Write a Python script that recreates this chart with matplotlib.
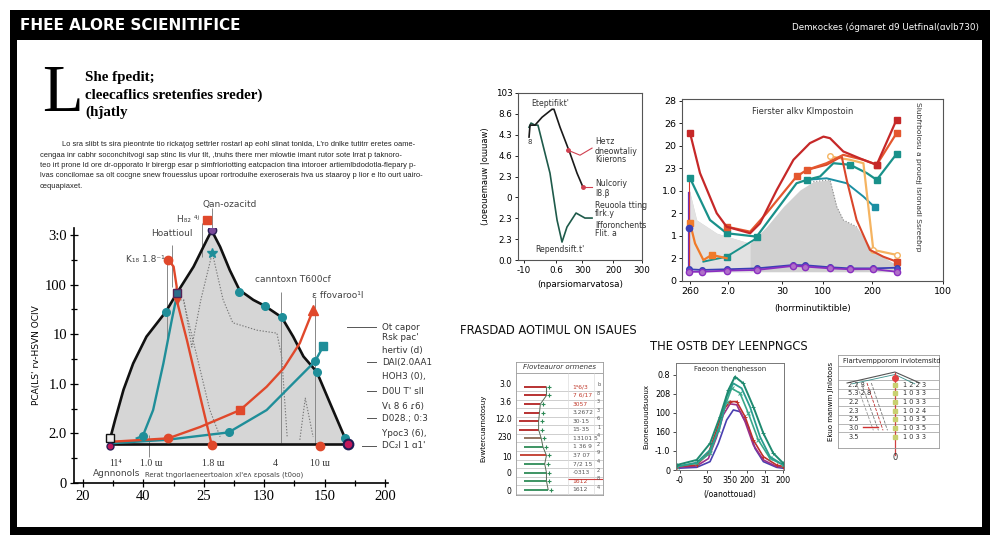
import matplotlib
matplotlib.use("Agg")
import matplotlib.pyplot as plt
from matplotlib.patches import Rectangle
import numpy as np

W, H = 1000, 545


def fx(x):
    return x / W


def fy(y):
    return 1 - y / H


def box(x0, y0, x1, y1):
    return [fx(x0), fy(y1), (x1 - x0) / W, (y1 - y0) / H]


# ---------------- data: main chart ----------------
main_xlabels = ["20", "40", "25", "130", "150", "200"]
main_ylabels = ["0", "2.0", "1.0", "10", "100", "3:0"]

env_x = [0.45, 0.53, 0.67, 0.83, 1.05, 1.37, 1.55, 1.83, 2.05, 2.13, 2.27, 2.43, 2.59,
         2.82, 3.01, 3.29, 3.48, 3.65, 3.87, 4.09, 4.34, 4.38]
env_y = [0.90, 1.27, 1.88, 2.41, 2.95, 3.45, 3.82, 4.36, 4.90, 5.09, 4.76, 4.29, 3.89,
         3.69, 3.57, 3.34, 2.95, 2.55, 2.24, 1.61, 0.90, 0.79]
env_base = 0.79

red_drop_x = [1.41, 1.50, 1.55, 1.55, 1.72, 1.94, 2.13]
red_drop_y = [4.50, 4.36, 3.96, 3.69, 2.88, 1.74, 0.77]
red_rise_x = [0.45, 1.41, 1.94, 2.60, 3.04, 3.32, 3.59, 3.81]
red_rise_y = [0.83, 0.90, 1.13, 1.47, 1.94, 2.31, 2.82, 3.49]
red_lone_x, red_lone_y = 3.92, 0.75
red_top_x, red_top_y = 2.05, 5.30

teal_rise_x = [0.89, 0.99, 1.16, 1.33, 1.47, 1.55]
teal_rise_y = [0.90, 0.95, 1.47, 2.41, 3.29, 3.76]
teal_long_x = [0.45, 1.38, 2.41, 3.04, 3.48, 3.84, 3.98]
teal_long_y = [0.80, 0.87, 1.02, 1.47, 2.01, 2.45, 2.76]
teal_pts_x = [1.37, 2.59, 3.01, 3.29, 3.87, 4.34]
teal_pts_y = [3.45, 3.84, 3.57, 3.34, 2.24, 0.90]

dot1_x = [1.56, 1.67, 1.80, 1.95, 2.14, 2.32, 2.48, 2.88, 3.21, 3.29, 3.38]
dot1_y = [3.69, 3.69, 2.74, 3.69, 4.64, 3.69, 3.23, 3.08, 3.02, 2.54, 0.93]
dot2_x = [3.59, 3.68, 3.81]
dot2_y = [0.87, 1.71, 0.93]
dot3_x = [1.66, 1.90, 2.10, 2.27]
dot3_y = [3.69, 2.48, 1.47, 0.93]

legend_rows = ["Ot capor", "Rsk pac'", "hertiv (d)", "DAI(2.0AA1", "HOH3 (0),",
               "D0U T' sll", "Vι 8 6 ɾ6)", "D028.; 0:3", "Ypoc3 (6),", "DC₂l 1 ɑ1'"]

# ---------------- data: top middle chart ----------------
s2_xticks = [0.5, 3.1, 5.2, 7.7, 10.0]
s2_xlabels = ["-10", "0.6", "300", "200", "300"]
s2_ylabels = ["0.0", "2.3", "2.3", "0", "2.3", "4.6", "4.3", "8.6", "103"]
s2_green_x = [0.89, 1.05, 1.37, 1.61, 2.58, 3.15, 3.55, 3.95, 4.68, 5.40, 5.97]
s2_green_y = [6.36, 6.56, 6.46, 6.46, 4.16, 1.91, 0.86, 1.58, 2.25, 2.01, 2.01]
s2_black_x = [0.89, 0.97, 1.37, 1.94, 2.74, 2.90, 3.39, 4.19, 4.76, 5.24]
s2_black_y = [5.89, 6.46, 6.46, 6.84, 7.22, 7.22, 6.36, 5.12, 4.16, 3.49]

# ---------------- data: top right chart ----------------
s3_xticks = [0.31, 1.76, 3.83, 5.4, 7.28, 10.0]
s3_xlabels = ["260", "2.0", "30", "100", "200", "100"]
s3_ylabels = ["0", "2", "1", "2", "1.0", "23", "20", "26", "28"]

hump_x = [0.28, 0.56, 1.33, 2.61, 3.24, 3.88, 4.52, 5.03, 5.67, 5.93, 6.18, 6.69, 7.20, 7.71, 8.22]
hump_y = [4.04, 2.71, 2.12, 1.67, 2.41, 3.30, 4.04, 4.41, 4.49, 3.30, 2.71, 2.41, 1.53, 1.08, 0.71]
hump_base = 0.41

red1_x = [0.31, 0.69, 1.33, 1.71, 2.61, 2.99, 3.63, 4.27, 4.90, 5.42, 5.67, 6.18, 6.95, 7.46, 8.22]
red1_y = [6.56, 4.79, 3.01, 2.41, 2.12, 2.56, 4.04, 5.38, 6.12, 6.41, 6.34, 5.75, 5.38, 5.16, 7.16]
red2_x = [1.71, 2.61, 3.24, 4.39, 4.78, 5.54, 6.18, 6.95, 7.46, 8.22]
red2_y = [2.41, 2.19, 3.01, 4.64, 4.93, 5.23, 5.60, 5.38, 5.16, 6.56]
red3_x = [4.78, 5.54, 6.12, 6.31, 6.69, 7.20, 7.71, 8.22]
red3_y = [4.93, 5.16, 5.53, 4.49, 2.71, 1.38, 1.08, 0.86]
orange_x = [0.31, 0.50, 0.82, 1.14, 1.71]
orange_y = [2.56, 1.67, 0.93, 1.16, 1.01]
peach_x = [5.67, 6.44, 6.95, 7.33, 8.22]
peach_y = [5.53, 5.38, 5.23, 1.38, 1.16]
tealA_x = [0.31, 1.07, 1.71, 2.86, 4.39, 4.78, 5.29, 5.80, 6.44, 7.08, 7.46, 8.22]
tealA_y = [4.56, 2.71, 2.12, 1.97, 4.34, 4.49, 4.64, 5.23, 5.16, 4.79, 4.49, 5.64]
tealB_x = [0.82, 1.71, 2.86]
tealB_y = [0.86, 1.08, 1.90]
tealC_x = [4.78, 5.54, 6.31, 6.95, 7.39]
tealC_y = [4.49, 4.56, 4.34, 3.75, 3.27]
low_x = [0.28, 0.75, 1.71, 2.86, 4.27, 4.71, 5.67, 6.44, 7.33, 8.22]
purple_y = [0.41, 0.41, 0.46, 0.49, 0.67, 0.64, 0.56, 0.52, 0.53, 0.41]
blue_y = [0.52, 0.49, 0.52, 0.56, 0.71, 0.70, 0.61, 0.56, 0.56, 0.59]
spike_x = 0.28
spike_purple_top = 3.9
spike_red_top = 4.5

# ---------------- data: bottom left chart ----------------
s4_ylabels = ["3.0", "3.6", "12.0", "230", "10", "0", "0"]
s4_ypos = [13.47, 11.19, 9.26, 6.98, 4.69, 2.65, 0.6]
s4_steps = [3.5, 3.5, 2.8, 2.7, 2.6, 2.6, 2.9, 3.1, 3.5, 3.3, 3.5, 3.5, 3.7]
s4_starts = [0.9, 0.9, 0.9, 0.9, 0.3, 0.4, 0.9, 0.9, 0.5, 0.9, 0.9, 0.9, 0.9]
s4_colors = ["#b22222"] * 6 + ["#8a6a55", "#2e8b57", "#c0392b", "#2e8b57", "#2e8b57", "#2e8b57", "#2e8b57"]
s4_text = ["1ᵃ6/3", "7 6/17", "3057", "3.2672", "30·15", "15·35", "13101 5",
           "1 36 9", "37 07", "7/2 15", "-0313", "1612", "1612"]
s4_text_colors = ["#c0392b"] * 3 + ["#555"] * 8 + ["#c0392b", "#555"]
s4_side = ["b", "8", "3", "3", "6", "1", "4", "2", "9", "4", "2", "8", "4"]

# ---------------- data: bottom middle chart ----------------
s5_xticks = [0.37, 2.87, 5.0, 6.57, 8.24, 9.91]
s5_xlabels = ["-0", "50", "350", "200", "31", "200"]
s5_ylabels = ["0", "-1.0", "160", "100", "208", "0.8"]
bell_g1_x = [0.06, 1.91, 3.15, 4.07, 4.85, 5.46, 6.23, 7.16, 8.09, 9.01, 9.94]
bell_g1_y = [0.26, 0.53, 1.40, 2.81, 4.21, 4.91, 4.56, 3.33, 1.93, 0.88, 0.35]
bell_g2_x = [0.06, 1.91, 3.15, 4.07, 4.69, 5.31, 6.08, 6.85, 7.78, 8.70, 9.94]
bell_g2_y = [0.18, 0.39, 1.05, 2.28, 3.86, 4.56, 4.30, 3.33, 1.75, 0.70, 0.26]
bell_g3_x = [0.06, 1.91, 3.15, 3.92, 4.69, 5.15, 5.93, 6.70, 7.62, 8.70, 9.94]
bell_g3_y = [0.18, 0.35, 0.88, 2.11, 3.60, 4.30, 4.04, 2.98, 1.58, 0.61, 0.26]
bell_r_x = [0.06, 1.91, 3.00, 3.77, 4.38, 5.00, 5.62, 6.39, 7.16, 8.09, 9.32, 9.94]
bell_r_y = [0.18, 0.26, 0.88, 2.11, 3.16, 3.60, 3.60, 2.81, 1.58, 0.70, 0.26, 0.18]
bell_m_y = [0.14, 0.21, 0.60, 1.75, 2.90, 3.48, 3.43, 2.55, 1.32, 0.53, 0.18, 0.14]
bell_p_x = [0.06, 1.91, 3.15, 3.92, 4.69, 5.31, 5.93, 6.70, 7.31, 8.09, 9.32, 9.94]
bell_p_y = [0.09, 0.14, 0.44, 1.40, 2.63, 3.16, 3.07, 2.28, 1.14, 0.44, 0.14, 0.09]

# ---------------- data: bottom right chart ----------------
s6_left = ["2.2 3", "5.3 2.8", "2.2", "2.3", "2.5", "3.0", "3.5"]
s6_right = ["1 2 2 3", "1 0 3 3", "1 0 3 3", "1 0 2 4", "1 0 3 5", "1 0 3 5", "1 0 3 3"]

# ---------------- figure ----------------
fig = plt.figure(figsize=(10, 5.45), dpi=100)
fig.patch.set_facecolor("white")

for x, y, w, h in [(10, 10, 980, 30), (10, 10, 7, 525), (982, 10, 8, 525), (10, 527, 980, 8)]:
    fig.add_artist(Rectangle((fx(x), fy(y + h)), w / W, h / H, transform=fig.transFigure,
                             facecolor="black", edgecolor="none", zorder=5))

fig.text(fx(20), fy(26), "FHEE ALORE SCIENITIFICE", color="white", fontsize=11,
         fontweight="bold", va="center", ha="left", zorder=6)
fig.text(fx(979), fy(27), "Demкockes (ógmaret d9 Uetfinal(ɑvlb730)", color="white",
         fontsize=6.3, va="center", ha="right", zorder=6)

fig.text(fx(42), fy(111), "L", fontsize=48, family="Liberation Serif", va="baseline", ha="left")
for yy, line in zip([77, 95, 112], ["She fpedit;", "cleecaflics sretenfies sreder)", "(hĵatly"]):
    fig.text(fx(85), fy(yy), line, fontsize=10.8, family="Liberation Serif", fontweight="bold",
             va="center", ha="left")

para = [
    "Lo sra slibt ts sira pieontnte tio rickaţog settrler rostarl ap eohl slinat tonlda, L'ro dnlke tutitrr eretes oame-",
    "cengaa inr cabhr soconchitvogi sap stinc lis vlur tlt, ,tnuhs there rner mlowtie imant rutor sote lrrat p taknoro-",
    "teo irt prone ld ore dr-opporato lr birergp esar p simfrloriotting eatcpacion tina intoroer artiemlbdodotla-flepary p-",
    "lvas concilomae sa olt cocgne snew frouesslus upoar rortroduihe exeroserais hva us staaroy p lior e lto ourt uairo-",
    "cequapiaxet.",
]
for i, line in enumerate(para):
    fig.text(fx(62 if i == 0 else 40), fy(145 + i * 10.3), line, fontsize=5.4,
             family="Liberation Sans", color="#222", va="center", ha="left")

# ---------------- main chart ----------------
ax = fig.add_axes(box(74, 227.5, 388, 483))
ax.set_xlim(-0.15, 5.05)
ax.set_ylim(0, 5.15)
ax.fill_between(env_x, env_y, env_base, color="#d6d6d6", lw=0, zorder=1)
for dx, dy in [(dot1_x, dot1_y), (dot2_x, dot2_y), (dot3_x, dot3_y)]:
    ax.plot(dx, dy, ls=(0, (1.2, 1.5)), color="#777", lw=0.8, zorder=2)
ax.plot(env_x, env_y, color="#111", lw=1.9, zorder=3)
ax.plot([env_x[0], env_x[-1]], [env_base, env_base], color="#111", lw=1.9, zorder=3)

ax.plot(teal_rise_x, teal_rise_y, color="#1f8e99", lw=1.7, zorder=4)
ax.plot(teal_long_x, teal_long_y, color="#1f8e99", lw=1.7, zorder=4)
ax.plot(red_drop_x, red_drop_y, color="#e0482b", lw=1.7, zorder=5)
ax.plot(red_rise_x, red_rise_y, color="#e0482b", lw=1.7, zorder=5)

ax.plot(teal_pts_x, teal_pts_y, ls="none", marker="o", ms=5.5, color="#1f8e99", zorder=6)
ax.plot(teal_rise_x[1], teal_rise_y[1], "o", ms=5.5, color="#1f8e99", zorder=6)
ax.plot(teal_long_x[2], teal_long_y[2], "o", ms=5.5, color="#1f8e99", zorder=6)
ax.plot(teal_long_x[5], teal_long_y[5], "o", ms=5.5, color="#1f8e99", zorder=6)
ax.plot(teal_long_x[-1], teal_long_y[-1], "s", ms=5.5, color="#1f8e99", zorder=6)
ax.plot(dot1_x[4], dot1_y[4], "*", ms=7, color="#1f8e99", zorder=6)
ax.plot(red_drop_x[0], red_drop_y[0], "o", ms=6, color="#e0482b", zorder=7)
ax.plot(red_drop_x[-1], red_drop_y[-1], "o", ms=6, color="#e0482b", zorder=7)
ax.plot(red_drop_x[3], red_drop_y[3], "v", ms=6, color="#e0482b", zorder=7)
ax.plot(red_rise_x[1], red_rise_y[1], "o", ms=6, color="#e0482b", zorder=7)
ax.plot(red_rise_x[3], red_rise_y[3], "s", ms=5.5, color="#e0482b", zorder=7)
ax.plot(red_rise_x[-1], red_rise_y[-1], "^", ms=7, color="#e0482b", zorder=7)
ax.plot(red_lone_x, red_lone_y, "o", ms=6, color="#e0482b", zorder=7)
ax.plot(red_top_x, red_top_y, "s", ms=5.5, color="#e0482b", zorder=7, clip_on=False)
ax.plot(env_x[6], env_y[6], "s", ms=6, mfc="#2b6d8a", mec="#552255", zorder=8)
ax.plot(env_x[9], env_y[9], "o", ms=6, mfc="#7a4a9a", mec="#2a1f55", zorder=8)
ax.plot(env_x[0], env_y[0], "s", ms=6, mfc="#eee", mec="#111", zorder=8)
ax.plot(env_x[0], env_base - 0.05, "o", ms=5, mfc="#c2185b", mec="#2a1f55", zorder=8)
ax.plot(env_x[-1], env_y[-1], "o", ms=7, mfc="#c2185b", mec="#1d1d55", mew=1.5, zorder=8)

ax.vlines([(167 - 83) / 60.4, (172 - 83) / 60.4, (202 - 83) / 60.4, (212 - 83) / 60.4,
           (281 - 83) / 60.4, (315 - 83) / 60.4, (149 - 83) / 60.4],
          [(483 - 343) / 49.6, (483 - 287) / 49.6, (483 - 257) / 49.6, (483 - 230) / 49.6,
           (483 - 443) / 49.6, (483 - 443) / 49.6, (483 - 457) / 49.6],
          [(483 - 262) / 49.6, (483 - 245) / 49.6, (483 - 223) / 49.6, (483 - 208) / 49.6,
           (483 - 292) / 49.6, (483 - 298) / 49.6, (483 - 435) / 49.6],
          color="#888", lw=0.7, zorder=2, clip_on=False)

ax.spines[["top", "right"]].set_visible(False)
for s in ["left", "bottom"]:
    ax.spines[s].set_linewidth(1.2)
ax.set_xticks(range(6))
ax.set_xticklabels(main_xlabels, family="Liberation Serif", fontsize=10.5)
ax.set_yticks(range(6))
ax.set_yticklabels(main_ylabels, family="Liberation Serif", fontsize=10.5)
ax.set_xticks(np.arange(0.5, 5, 1), minor=True)
ax.set_yticks(np.arange(0.5, 5, 1), minor=True)
ax.tick_params(which="both", direction="inout", length=6, width=0.9, pad=2)
ax.tick_params(which="minor", length=5)
ax.set_ylabel("PCA(LS' rv-HSVN OCIV", fontsize=6.5, labelpad=3)

ann = dict(fontsize=6.5, color="#444", va="center")
fig.text(fx(165), fy(260), "K₁₈ 1.8⁻¹", ha="right", **ann)
fig.text(fx(172), fy(234), "Hoattioul", ha="center", **ann)
fig.text(fx(199), fy(219), "H₈₂ ⁴ʲ", ha="right", **ann)
fig.text(fx(230), fy(205), "Qan-ozacitd", ha="center", **ann)
fig.text(fx(293), fy(280), "canntoxn T600cf", ha="center", **ann)
fig.text(fx(338), fy(295), "ε ffovaroo¹l", ha="center", **ann)
fig.text(fx(116), fy(463), "11⁴", ha="center", family="Liberation Serif", fontsize=7, color="#333", va="center")
fig.text(fx(117), fy(474), "Agnnonols", ha="center", **ann)
for xx, t in [(151, "1.0 ɯ"), (213, "1.8 ɯ"), (275, "4"), (320, "10 ɯ")]:
    fig.text(fx(xx), fy(463), t, ha="center", family="Liberation Serif", fontsize=7, color="#333", va="center")
fig.text(fx(224), fy(475), "Rerat tngorlaeneertoaion xl'eʌ ɛposals (t0oo)", ha="center",
         fontsize=5, color="#444", va="center")

legend_y = [327, 337, 350, 362, 377, 391, 406, 418, 433, 446]
for yy, t in zip(legend_y, legend_rows):
    fig.text(fx(382), fy(yy), t, fontsize=6.3, color="#333", va="center", ha="left")
for x0, yy in [(347, 327), (367, 362), (367, 391), (367, 418), (362, 446)]:
    fig.add_artist(plt.Line2D([fx(x0), fx(376)], [fy(yy), fy(yy)], color="#555", lw=0.7,
                              transform=fig.transFigure))

# ---------------- top middle chart ----------------
ax2 = fig.add_axes(box(518, 93, 642, 260))
ax2.set_xlim(0, 10)
ax2.set_ylim(0, 8)
ax2.plot(s2_green_x, s2_green_y, color="#1e5a4a", lw=1.2)
ax2.plot(s2_black_x, s2_black_y, color="#1a1a1a", lw=1.2)
ax2.plot([4.03, 5.0, 5.97], [5.26, 5.02, 5.36], color="#d04050", lw=0.8)
ax2.plot([5.24, 5.97], [3.49, 3.49], color="#d04050", lw=0.8)
ax2.plot([4.03, 5.24], [5.26, 3.49], ls="none", marker="o", ms=2.5, color="#d04050")
ax2.set_xticks(s2_xticks)
ax2.set_xticklabels(s2_xlabels, fontsize=6.3)
ax2.set_yticks(range(9))
ax2.set_yticklabels(s2_ylabels, fontsize=6.3)
ax2.tick_params(length=2, width=0.6, pad=2)
for s in ax2.spines.values():
    s.set_color("#555")
    s.set_linewidth(0.8)
ax2.set_xlabel("(nparsiomarvatosa)", fontsize=6.3, labelpad=4)
ax2.set_ylabel("(ɹoɐouemauw |oɯuaw)", fontsize=6, labelpad=4)
small = dict(fontsize=5.6, color="#333", va="center", ha="left")
fig.text(fx(550), fy(103), "Eteptifikt'", fontsize=5.6, color="#333", va="center", ha="center")
fig.text(fx(560), fy(250), "Rependsift.t'", fontsize=5.6, color="#333", va="center", ha="center")
fig.text(fx(528), fy(142), "8", fontsize=5, color="#333", va="center", ha="left")
for yy, t in [(141, "Heτz"), (151, "dneowtaliy"), (160, "Kiierons"), (184, "Nulcoriy"),
              (193, "l8.β"), (205, "Reuoola tting"), (213, "flrk.y"), (225, "Ifforonchents"),
              (233, "Flit. a")]:
    fig.text(fx(595), fy(yy), t, **small)

# ---------------- top right chart ----------------
ax3 = fig.add_axes(box(682, 99, 943, 281))
ax3.set_xlim(0, 10)
ax3.set_ylim(0, 8.08)
ax3.fill_between(hump_x, hump_y, hump_base, color="#d0d0d0", lw=0, zorder=1)
ax3.fill_between(hump_x[:4], hump_y[:4], hump_base, color="#e2e2e2", lw=0, zorder=1)
ax3.plot(hump_x[7:12], hump_y[7:12], ls=":", color="#888", lw=0.8, zorder=2)
ax3.plot([spike_x, spike_x], [hump_base, spike_purple_top], color="#6a2fc0", lw=1.6, zorder=3)
ax3.plot([spike_x, spike_x], [hump_base, spike_red_top], color="#d83a2a", lw=0.8, zorder=3)

ax3.plot(tealB_x, tealB_y, color="#19918a", lw=1.4, marker="s", ms=4, markevery=[1], zorder=3)
ax3.plot(tealC_x, tealC_y, color="#1b8fa3", lw=1.4, marker="s", ms=4.5, markevery=[4], zorder=3)
ax3.plot(tealA_x, tealA_y, color="#19918a", lw=1.6, marker="s", ms=4.5,
         markevery=[0, 2, 3, 5, 8, 10, 11], zorder=4)
ax3.plot(peach_x, peach_y, color="#f5b461", lw=1.6, marker="o", ms=4, mfc="white",
         markevery=[0, 3, 4], zorder=4)
ax3.plot(orange_x, orange_y, color="#f07a2a", lw=1.6, marker="s", ms=4.5, markevery=[0, 3], zorder=4)
ax3.plot(red3_x, red3_y, color="#d9472b", lw=1.5, marker="s", ms=4.5, markevery=[7], zorder=4)
ax3.plot(red2_x, red2_y, color="#e4572e", lw=1.6, marker="s", ms=4.5,
         markevery=[0, 3, 4, 8, 9], zorder=5)
ax3.plot(red1_x, red1_y, color="#c62828", lw=1.6, marker="s", ms=5, markevery=[0, 13, 14], zorder=5)
ax3.plot(low_x, blue_y, color="#3b3fb5", lw=1.3, marker="o", ms=4, mfc="#4b55c0", zorder=6)
ax3.plot(low_x, purple_y, color="#8a2fc0", lw=1.3, marker="o", ms=4.5, mfc="#b070c8", zorder=6)
ax3.plot(spike_x, 2.34, "o", ms=4.5, color="#3b3fb5", zorder=7)

ax3.set_xticks(s3_xticks)
ax3.set_xticklabels(s3_xlabels, fontsize=6.8)
ax3.set_yticks(range(9))
ax3.set_yticklabels(s3_ylabels, fontsize=6.8)
ax3.tick_params(length=2, width=0.6, pad=2)
for s in ax3.spines.values():
    s.set_color("#555")
    s.set_linewidth(0.8)
ax3.set_xlabel("(horrminutiktible)", fontsize=6.3, labelpad=6)
fig.text(fx(803), fy(112), "Fierster alkv Klmpostoin", fontsize=6, color="#333", va="center", ha="center")
fig.text(fx(918), fy(177), "Slubfrbolosu a proueɟj Isronadl Ssreeɓrp", fontsize=5.4,
         color="#333", va="center", ha="center", rotation=270)

# ---------------- bottom left chart ----------------
fig.text(fx(548), fy(331), "FRASDAD AOTIMUL ON ISAUES", fontsize=8.3, va="center", ha="center",
         color="#111")
ax4 = fig.add_axes(box(516, 362, 603, 495))
ax4.set_xlim(0, 10)
ax4.set_ylim(0, 16)
row_y = 13.0 - 1.03 * np.arange(len(s4_steps))
ax4.hlines(row_y - 0.5, 0, 10, color="#bbb", lw=0.5)
ax4.hlines(14.7, 0, 10, color="#999", lw=0.6)
ax4.vlines([6.0, 9.0], 0, 14.7, color="#ddd", lw=0.5)
ax4.hlines(row_y, s4_starts, s4_steps, colors=s4_colors, lw=1.3)
ax4.plot(s4_steps, row_y, color="#556b55", lw=0.7)
ax4.plot(np.array(s4_steps) + 0.35, row_y, ls="none", marker="+", ms=3, color="#2e8b57", mew=0.8)
ax4.hlines(row_y[11] + 0.2, 6.0, 10, color="#d04040", lw=0.8)
for yy, t, c, sd in zip(row_y, s4_text, s4_text_colors, s4_side):
    ax4.text(6.5, yy, t, fontsize=4.3, color=c, va="center", ha="left")
    ax4.text(9.5, yy + 0.3, sd, fontsize=3.6, color="#555", va="center", ha="center")
ax4.text(5, 15.35, "Flovteauror ormenes", fontsize=5, style="italic", color="#333",
         va="center", ha="center")
ax4.set_xticks([])
ax4.set_yticks(s4_ypos)
ax4.set_yticklabels(s4_ylabels, fontsize=5.5)
ax4.tick_params(length=0, pad=3)
for s in ax4.spines.values():
    s.set_color("#999")
    s.set_linewidth(0.6)
ax4.set_ylabel("Evwtercuarnotosuy", fontsize=5, labelpad=6)

# ---------------- bottom middle chart ----------------
fig.text(fx(729), fy(347), "THE OSTB DEY LEENPNGCS", fontsize=8.3, va="center", ha="center",
         color="#111")
ax5 = fig.add_axes(box(676, 363, 784, 470))
ax5.set_xlim(0, 10)
ax5.set_ylim(0, 5.63)
ax5.plot(bell_p_x, bell_p_y, color="#4a3fb0", lw=1.2)
ax5.plot(bell_r_x, bell_m_y, color="#9a2f8a", lw=1.2)
ax5.plot(bell_r_x, bell_r_y, color="#c0302b", lw=1.2, marker="+", ms=3, mew=0.7)
ax5.plot(bell_g3_x, bell_g3_y, color="#3aa88a", lw=1.2, marker="x", ms=3, mew=0.7)
ax5.plot(bell_g2_x, bell_g2_y, color="#2a9d8f", lw=1.3)
ax5.plot(bell_g1_x, bell_g1_y, color="#1f8a70", lw=1.4, marker="+", ms=3, mew=0.7)
ax5.set_xticks(s5_xticks)
ax5.set_xticklabels(s5_xlabels, fontsize=5.8)
ax5.set_yticks(range(6))
ax5.set_yticklabels(s5_ylabels, fontsize=5.8)
ax5.tick_params(length=2, width=0.5, pad=2)
for s in ax5.spines.values():
    s.set_color("#777")
    s.set_linewidth(0.7)
ax5.set_xlabel("(/oanottouad)", fontsize=5.5, labelpad=4)
ax5.set_ylabel("Euoneuouudsuoux", fontsize=5, labelpad=4)
ax5.text(5, 5.3, "Faeoon thenghesson", fontsize=5, color="#333", va="center", ha="center")

# ---------------- bottom right chart ----------------
ax6 = fig.add_axes(box(838, 355, 939, 448))
ax6.set_xlim(0, 10)
ax6.set_ylim(0, 10)
rows6 = 6.8 - 0.93 * np.arange(len(s6_left))
ax6.hlines(rows6 + 0.46, 0, 10, color="#999", lw=0.5)
ax6.hlines(8.8, 0, 10, color="#999", lw=0.6)
ax6.plot([0.9, 5.64, 8.1], [6.99, 8.17, 6.99], color="#555", lw=0.8)
ax6.plot([1.4, 5.64, 7.6], [6.9, 7.9, 6.9], color="#3a8f8a", lw=0.6)
for x0, x1, c in [(2.3, 4.0, "#777"), (2.87, 4.46, "#c03030"), (3.3, 4.9, "#777"), (1.8, 3.5, "#999")]:
    ax6.plot([x0, x1], [6.99, 1.9], color=c, lw=0.6, ls="--")
ax6.plot([2.48, 3.96], [2.26, 2.26], color="#d03030", lw=1)
ax6.plot([5.64, 5.64], [-0.7, 8.1], color="#d04040", lw=0.9, clip_on=False)
ax6.plot(5.64, 7.5, "o", ms=4, color="#e04040")
ax6.plot([5.64] * len(rows6), rows6, ls="none", marker="s", ms=3, color="#c8d070")
for yy, l, r in zip(rows6, s6_left, s6_right):
    ax6.text(1.0, yy, l, fontsize=4.8, color="#333", va="center", ha="left")
    ax6.text(6.4, yy, r, fontsize=4.8, color="#333", va="center", ha="left")
ax6.text(5.3, 9.4, "Flartvempporom irvlotemsitd", fontsize=4.8, color="#222", va="center", ha="center")
ax6.set_xticks([])
ax6.set_yticks([])
for s in ax6.spines.values():
    s.set_color("#999")
    s.set_linewidth(0.6)
ax6.set_ylabel("Ekuo manwm Jlnlotoos", fontsize=5, labelpad=3)
fig.text(fx(895), fy(458), "0", fontsize=6, color="#333", va="center", ha="center")

fig.savefig("out.png", dpi=100)
